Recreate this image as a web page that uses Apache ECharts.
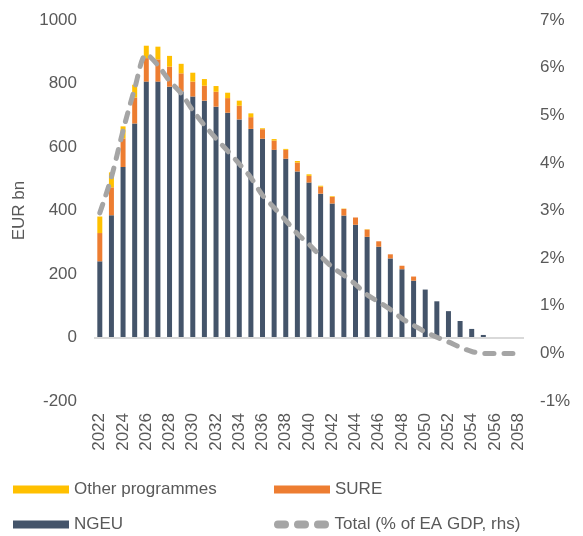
<!DOCTYPE html>
<html>
<head>
<meta charset="utf-8">
<script src="https://cdn.jsdelivr.net/npm/echarts@6/dist/echarts.min.js"></script>
<style>
  html, body { margin: 0; padding: 0; background: #fff; }
  #main { width: 583px; height: 536px; }
</style>
</head>
<body>
<div id="main"></div>
<script>
// years 2022..2058
var years = []
for (var y = 2022; y <= 2058; y++) years.push(String(y))

// EUR bn
var ngeu = [240, 385, 537, 674, 806, 806, 790, 775, 759, 746, 727, 708, 687, 657, 626, 591, 563, 523, 488, 453, 422, 384, 355, 317, 286, 249, 215, 179, 151, 114, 83, 52, 27, 8, 0, 0, 0]
var sure = [89, 88, 90, 82, 74, 70, 63, 57, 47, 47, 47, 46, 43, 37, 30, 29, 28, 28, 21, 22, 21, 21, 23, 23, 17, 13, 11, 13, 0, 0, 0, 0, 0, 0, 0, 0, 0]
var other = [52, 47, 38, 40, 39, 40, 34, 30, 28, 21, 18, 17, 16, 12, 3, 5, 3, 5, 5, 3, 2, 1, 0, 1, 0, 0, 0, 0, 0, 0, 0, 0, 0, 0, 0, 0, 0]
// % of EA GDP (rhs)
var totalPct = [2.95, 3.70, 4.68, 5.56, 6.28, 6.05, 5.72, 5.46, 5.10, 4.79, 4.51, 4.25, 3.98, 3.69, 3.32, 3.06, 2.79, 2.51, 2.29, 2.04, 1.81, 1.64, 1.45, 1.23, 1.08, 0.92, 0.73, 0.59, 0.45, 0.34, 0.24, 0.13, 0.04, 0, 0, 0, 0]

var txt = '#595959'
var fontFam = 'Liberation Sans, Arial, sans-serif'
// three rounded dashes for the line legend
var dashIcon = 'path://M4,0H11A4,4 0 0 1 11,8H4A4,4 0 0 1 4,0Z' +
  'M24,0H31A4,4 0 0 1 31,8H24A4,4 0 0 1 24,0Z' +
  'M44,0H51A4,4 0 0 1 51,8H44A4,4 0 0 1 44,0Z'

var chart = echarts.init(document.getElementById('main'))

function leg (item, left, top) {
  return {
    data: [item],
    left: left,
    top: top,
    padding: 0,
    itemWidth: 56,
    itemHeight: 8,
    itemGap: 0,
    selectedMode: false,
    textStyle: { color: txt, fontSize: 17, fontFamily: fontFam }
  }
}

chart.setOption({
  animation: false,
  grid: { left: 94, right: 59, top: 20, bottom: 135 },
  legend: [
    leg({ name: 'Other programmes', icon: 'rect' }, 13, 481),
    leg({ name: 'SURE', icon: 'rect' }, 274, 481),
    leg({ name: 'NGEU', icon: 'rect' }, 13, 516),
    leg({ name: 'Total (% of EA GDP, rhs)', icon: dashIcon }, 274, 516)
  ],
  xAxis: {
    type: 'category',
    data: years,
    axisLine: { show: false },
    axisTick: { show: false },
    axisLabel: {
      interval: 1,
      rotate: 90,
      margin: 12,
      color: txt,
      fontSize: 17,
      fontFamily: fontFam
    }
  },
  yAxis: [
    {
      type: 'value',
      min: -200,
      max: 1000,
      interval: 200,
      name: 'EUR bn',
      nameLocation: 'middle',
      nameGap: 66,
      nameTextStyle: { color: txt, fontSize: 17, fontFamily: fontFam },
      splitLine: { show: false },
      axisLine: { show: false },
      axisTick: { show: false },
      axisLabel: {
        margin: 17, color: txt, fontSize: 17, fontFamily: fontFam,
        formatter: function (v) { return String(v) }
      }
    },
    {
      type: 'value',
      min: -1,
      max: 7,
      interval: 1,
      splitLine: { show: false },
      axisLine: { show: false },
      axisTick: { show: false },
      axisLabel: { margin: 16, color: txt, fontSize: 17, fontFamily: fontFam, formatter: '{value}%' }
    }
  ],
  series: [
    {
      name: 'NGEU',
      type: 'bar',
      stack: 'eu',
      barWidth: 5,
      data: ngeu,
      itemStyle: { color: '#44546A' },
      markLine: {
        silent: true,
        symbol: 'none',
        label: { show: false },
        lineStyle: { color: '#D9D9D9', width: 2, type: 'solid' },
        data: [{ yAxis: 0 }]
      }
    },
    {
      name: 'SURE',
      type: 'bar',
      stack: 'eu',
      barWidth: 5,
      data: sure,
      itemStyle: { color: '#ED7D31' }
    },
    {
      name: 'Other programmes',
      type: 'bar',
      stack: 'eu',
      barWidth: 5,
      data: other,
      itemStyle: { color: '#FFC000' }
    },
    {
      name: 'Total (% of EA GDP, rhs)',
      type: 'line',
      yAxisIndex: 1,
      smooth: 0.3,
      symbol: 'none',
      data: totalPct,
      lineStyle: { color: '#A5A5A5', width: 5, type: [9, 10], cap: 'round' },
      itemStyle: { color: '#A5A5A5' },
      z: 5
    }
  ]
})
</script>
</body>
</html>
